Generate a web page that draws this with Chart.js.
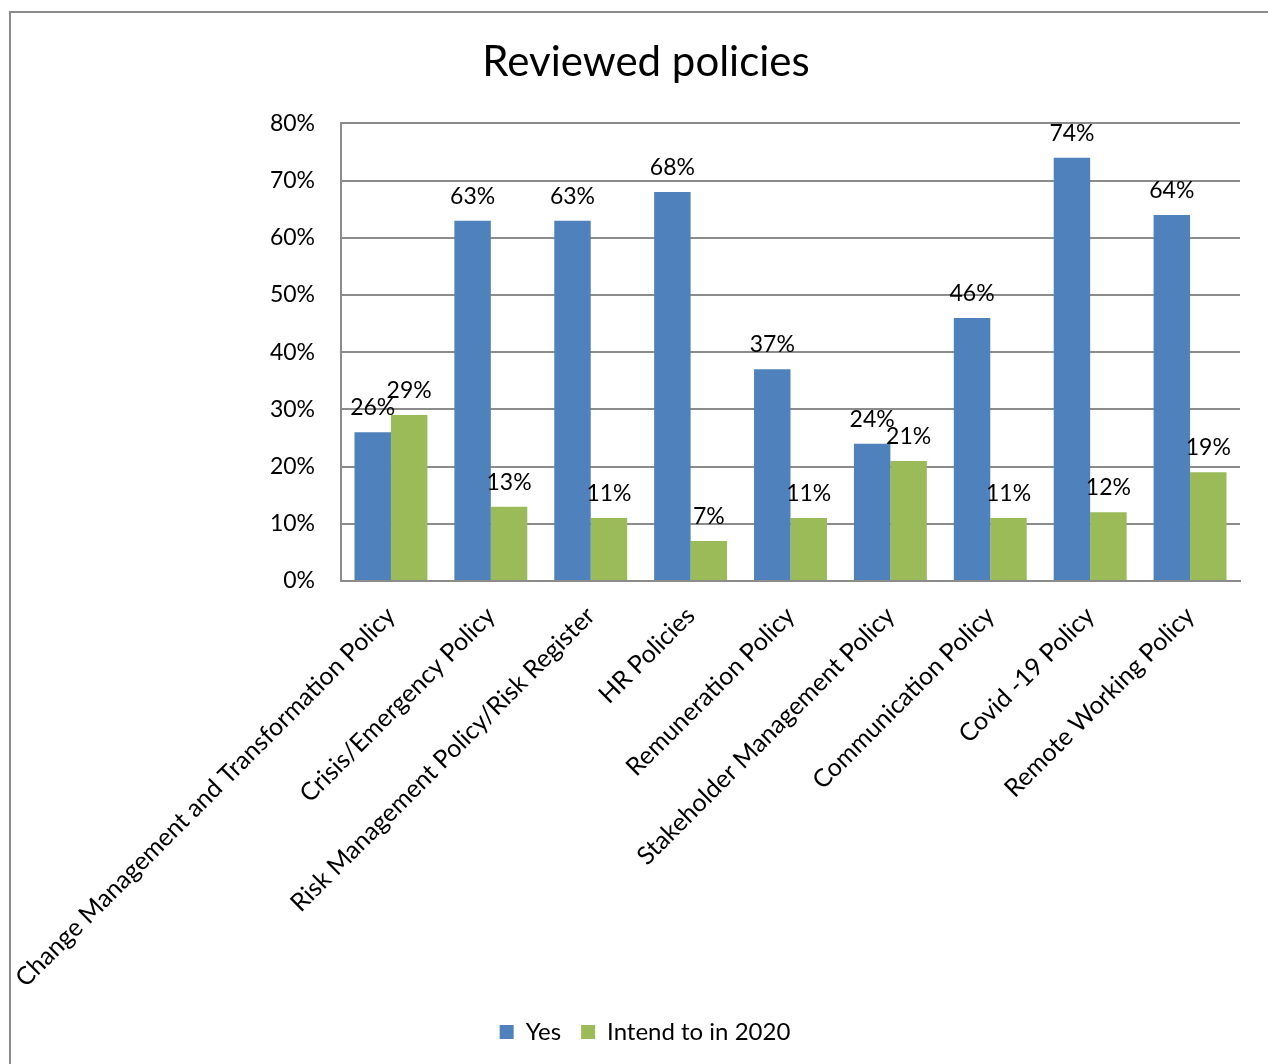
<!DOCTYPE html>
<html>
<head>
<meta charset="utf-8">
<script src="https://cdn.jsdelivr.net/npm/chart.js@4/dist/chart.umd.min.js"></script>
<style>
  html, body { margin: 0; padding: 0; background: #fff; overflow: hidden; }
  #frame { position: absolute; left: 9px; top: 11px; width: 1300px; height: 1100px; border: 2px solid #8c8c8c; }
  #wrap { position: absolute; left: 0; top: 0; width: 1268px; height: 1064px; }
</style>
</head>
<body>
<div id="frame"></div>
<div id="wrap"><canvas id="chart" width="1268" height="1064"></canvas></div>
<script>
const categories = [
  'Change Management and Transformation Policy',
  'Crisis/Emergency Policy',
  'Risk Management Policy/Risk Register',
  'HR Policies',
  'Remuneration Policy',
  'Stakeholder Management Policy',
  'Communication Policy',
  'Covid -19 Policy',
  'Remote Working Policy'
];
const yesValues = [26, 63, 63, 68, 37, 24, 46, 74, 64];
const intendValues = [29, 13, 11, 7, 11, 21, 11, 12, 19];
const seriesNames = ['Yes', 'Intend to in 2020'];

const FONT = 'Lato, "Open Sans", sans-serif';
const gridColor = '#8c8c8c';

// value labels above each bar
const barLabels = {
  id: 'barLabels',
  afterDatasetsDraw(chart) {
    const ctx = chart.ctx;
    ctx.save();
    ctx.font = '23px ' + FONT;
    ctx.fillStyle = '#000';
    ctx.textAlign = 'center';
    ctx.textBaseline = 'alphabetic';
    chart.data.datasets.forEach((ds, i) => {
      chart.getDatasetMeta(i).data.forEach((bar, j) => {
        ctx.fillText(ds.data[j] + '%', bar.x, bar.y - 17);
      });
    });
    ctx.restore();
  }
};

// centre title and legend a little right of the plot's own centre
const shiftBlocks = {
  id: 'shiftBlocks',
  afterLayout(chart) {
    if (chart.titleBlock) { chart.titleBlock.left = 52; chart.titleBlock.right = 1240; }
    if (chart.legend) { chart.legend.left = 50; chart.legend.right = 1240; chart.legend.width = 1190; }
  }
};

new Chart(document.getElementById('chart'), {
  type: 'bar',
  data: {
    labels: categories,
    datasets: [
      { label: seriesNames[0], data: yesValues, backgroundColor: '#4f81bd' },
      { label: seriesNames[1], data: intendValues, backgroundColor: '#9bbb59' }
    ]
  },
  options: {
    responsive: false,
    animation: false,
    layout: { padding: { left: 0, right: 28, top: 0, bottom: 10 } },
    datasets: { bar: { categoryPercentage: 0.73, barPercentage: 1.0 } },
    scales: {
      x: {
        grid: { display: false },
        border: { display: true, color: gridColor, width: 2 },
        ticks: {
          color: '#000',
          font: { family: FONT, size: 25 },
          minRotation: 45,
          maxRotation: 45,
          autoSkip: false,
          padding: 12
        },
        afterFit(scale) {
          scale.height = 419;
          // long rotated labels may run past the left edge
          scale.paddingLeft = 0;
          scale.paddingRight = 0;
        }
      },
      y: {
        min: 0,
        max: 80,
        grid: { color: gridColor, lineWidth: 2, drawTicks: false },
        border: { display: true, color: gridColor, width: 2 },
        ticks: {
          stepSize: 10,
          color: '#000',
          padding: 26,
          font: { family: FONT, size: 23 },
          callback: v => v + '%'
        },
        afterFit(scale) { scale.width = 341; }
      }
    },
    plugins: {
      title: {
        display: true,
        text: 'Reviewed policies',
        color: '#000',
        font: { family: FONT, size: 42, weight: 'normal' },
        padding: { top: 37, bottom: 36 }
      },
      legend: {
        position: 'bottom',
        labels: {
          color: '#000',
          font: { family: FONT, size: 24 },
          boxWidth: 14,
          boxHeight: 14,
          padding: 20
        }
      },
      tooltip: { enabled: false }
    }
  },
  plugins: [barLabels, shiftBlocks]
});
</script>
</body>
</html>
